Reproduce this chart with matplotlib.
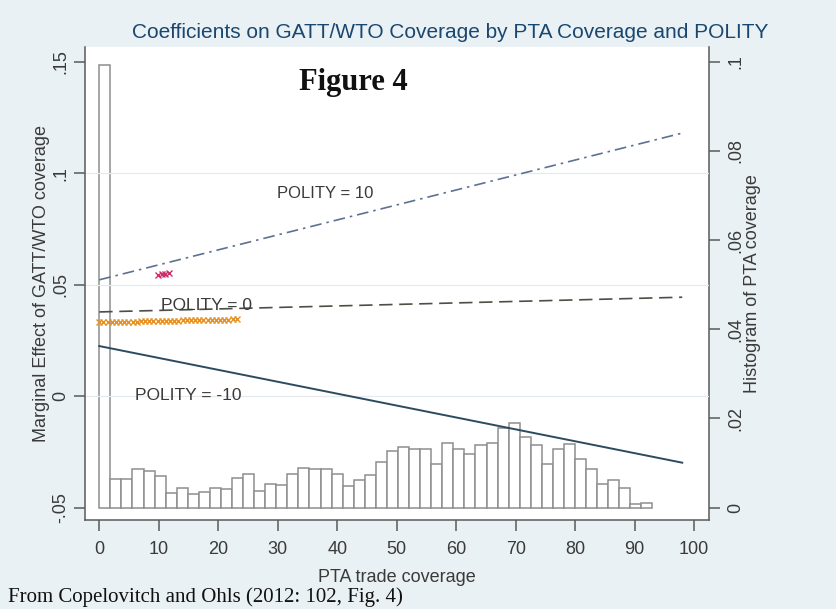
import numpy as np
import matplotlib.pyplot as plt

# histogram of PTA coverage (density), 50 bins over 0..93
hist_density = [0.0992, 0.0064, 0.0064, 0.0086, 0.0082, 0.0072, 0.0034, 0.0045, 0.0031, 0.0036,
                0.0045, 0.0041, 0.0067, 0.0076, 0.0037, 0.0054, 0.0050, 0.0076, 0.0088, 0.0086,
                0.0086, 0.0075, 0.0049, 0.0061, 0.0073, 0.0103, 0.0127, 0.0135, 0.0131, 0.0131,
                0.0099, 0.0144, 0.0131, 0.0121, 0.0140, 0.0144, 0.0178, 0.0190, 0.0159, 0.0141,
                0.0099, 0.0131, 0.0142, 0.0109, 0.0086, 0.0054, 0.0062, 0.0045, 0.0009, 0.0010]
hist_max = 93.0

# marginal effect lines (endpoints)
line_x = [0, 98]
polity_pos10 = [0.0522, 0.1180]
polity_0 = [0.0378, 0.0444]
polity_neg10 = [0.0225, -0.0298]

# marker rows
orange_x = [0.0, 0.7, 1.4, 2.1, 2.8, 3.5, 4.2, 4.9, 5.6, 6.3, 7.0, 7.7, 8.4, 9.1, 9.8, 10.5, 11.2,
            11.9, 12.6, 13.3, 14.0, 14.7, 15.4, 16.1, 16.8, 17.5, 18.2, 18.9, 19.6, 20.3, 21.0,
            21.7, 22.4, 23.1]
orange_y = [0.0332, 0.0332, 0.0333, 0.0333, 0.0334, 0.0334, 0.0334, 0.0335, 0.0335, 0.0335,
            0.0336, 0.0336, 0.0337, 0.0337, 0.0337, 0.0338, 0.0338, 0.0339, 0.0339, 0.0339,
            0.0340, 0.0340, 0.0341, 0.0341, 0.0341, 0.0342, 0.0342, 0.0343, 0.0343, 0.0343,
            0.0344, 0.0344, 0.0345, 0.0345]
pink_x = [9.9, 10.5, 11.1, 11.7]
pink_y = [0.0543, 0.0546, 0.0549, 0.0551]

left_ticks = [-0.05, 0, 0.05, 0.1, 0.15]
left_labels = ['-.05', '0', '.05', '.1', '.15']
right_ticks = [0, 0.02, 0.04, 0.06, 0.08, 0.1]
right_labels = ['0', '.02', '.04', '.06', '.08', '.1']
x_ticks = [0, 10, 20, 30, 40, 50, 60, 70, 80, 90, 100]

plt.rcParams['font.family'] = ['Liberation Sans', 'DejaVu Sans']
bg = '#eaf1f4'
axis_col = '#5a5a5a'
txt_col = '#3a3a3a'

fig = plt.figure(figsize=(8.36, 6.09), dpi=100, facecolor=bg)
W, H = 836, 609
ax = fig.add_axes([85 / W, (H - 520) / H, (709 - 85) / W, (520 - 47) / H])
ax.set_facecolor('white')
axl = ax.twinx()

# histogram on the right-hand scale
bw = hist_max / len(hist_density)
edges = np.arange(len(hist_density)) * bw
ax.bar(edges, hist_density, width=bw, align='edge', color='white',
       edgecolor='#8e8e8e', linewidth=1.1, zorder=2)
ax.set_xlim(-2.4, 102.5)
ax.set_ylim(-0.00276, 0.1033)
ax.yaxis.tick_right()
ax.yaxis.set_label_position('right')
ax.set_yticks(right_ticks)
ax.set_yticklabels(right_labels, rotation=90, va='center')
ax.set_xticks(x_ticks)
ax.tick_params(axis='both', direction='out', length=8, width=1.1, color=axis_col,
               labelsize=13, labelcolor=txt_col, pad=5)
ax.tick_params(axis='x', pad=7)
for s in ['left', 'top']:
    ax.spines[s].set_visible(False)
for s in ['right', 'bottom']:
    ax.spines[s].set_color(axis_col)
    ax.spines[s].set_linewidth(1.1)
ax.set_ylabel('Histogram of PTA coverage', fontsize=13, color=txt_col, labelpad=0)
ax.set_xlabel('PTA trade coverage', fontsize=13, color=txt_col, labelpad=8)

# marginal effects on the left-hand scale
axl.yaxis.tick_left()
axl.yaxis.set_label_position('left')
axl.set_ylim(-0.0555, 0.1566)
axl.set_yticks(left_ticks)
axl.set_yticklabels(left_labels, rotation=90, va='center')
axl.tick_params(axis='y', direction='out', length=8, width=1.1, color=axis_col,
                labelsize=13, labelcolor=txt_col, pad=3)
for s in ['right', 'top', 'bottom']:
    axl.spines[s].set_visible(False)
axl.spines['left'].set_color(axis_col)
axl.spines['left'].set_linewidth(1.1)
axl.set_ylabel('Marginal Effect of GATT/WTO coverage', fontsize=13, color=txt_col, labelpad=2)

for g in [0, 0.05, 0.1]:
    axl.axhline(g, color='#e4eaed', linewidth=0.9, zorder=0)

axl.plot(line_x, polity_pos10, color='#5d7192', linewidth=1.2, dashes=[7, 3, 1.5, 3])
axl.plot(line_x, polity_0, color='#4e4e44', linewidth=1.2, dashes=[8, 4])
axl.plot(line_x, polity_neg10, color='#2c4a60', linewidth=1.4)
axl.plot(orange_x, orange_y, linestyle='none', marker='x', markersize=4,
         markeredgewidth=1.0, color='#e8901e')
axl.plot(pink_x, pink_y, linestyle='none', marker='x', markersize=4,
         markeredgewidth=1.0, color='#cc2e68')

axl.text(37.9, 0.0911, 'POLITY = 10', fontsize=12, color=txt_col, ha='center', va='center')
axl.text(18.1, 0.0409, 'POLITY = 0', fontsize=12.5, color=txt_col, ha='center', va='center')
axl.text(14.9, 0.0005, 'POLITY = -10', fontsize=12.5, color=txt_col, ha='center', va='center')
axl.text(42.8, 0.1409, 'Figure 4', fontsize=22, fontweight='bold', family='Liberation Serif',
         color='#111111', ha='center', va='center')

fig.text(450 / W, 1 - 33 / H, 'Coefficients on GATT/WTO Coverage by PTA Coverage and POLITY',
         fontsize=15, color='#1a476f', ha='center', va='center')
fig.text(8 / W, 1 - 597 / H, 'From Copelovitch and Ohls (2012: 102, Fig. 4)',
         fontsize=15, family='Liberation Serif', color='#111111', ha='left', va='center')

fig.savefig('out.png', dpi=100, facecolor=bg)
